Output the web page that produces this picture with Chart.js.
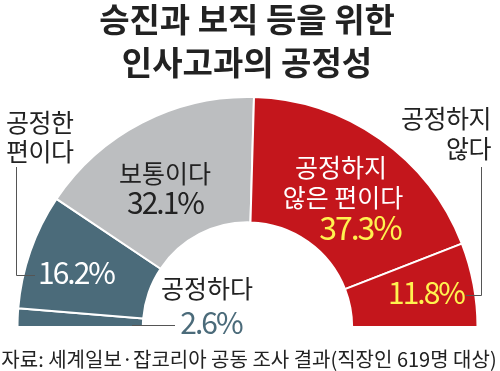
<!DOCTYPE html>
<html><head><meta charset="utf-8">
<script src="https://cdn.jsdelivr.net/npm/chart.js@4/dist/chart.umd.min.js"></script>
<style>html,body{margin:0;padding:0;background:#fff;}#wrap{width:500px;height:371px;position:relative;}</style>
</head><body><div id="wrap"><canvas id="c" width="500" height="371"></canvas></div>
<script>
const categories = ['공정하다', '공정한 편이다', '보통이다', '공정하지 않은 편이다', '공정하지 않다'];
const values = [2.6, 16.2, 32.1, 37.3, 11.8];
const valueLabels = ['2.6%', '16.2%', '32.1%', '37.3%', '11.8%'];
const colors = ['#4b6b7a', '#4b6b7a', '#bcbec0', '#c4161c', '#c4161c'];
const titleLines = ['승진과 보직 등을 위한', '인사고과의 공정성'];
const sourceText = '자료: 세계일보·잡코리아 공동 조사 결과(직장인 619명 대상)';

const F = '"Noto Sans CJK KR", "Noto Sans", sans-serif';

const labelPlugin = {
  id: 'labels',
  afterDraw(chart) {
    const ctx = chart.ctx;
    ctx.save();
    ctx.textBaseline = 'middle';
    function t(str, x, y, size, color, align, weight, ls) {
      ctx.font = (weight || 400) + ' ' + size + 'px ' + F;
      ctx.fillStyle = color;
      ctx.textAlign = align || 'center';
      ctx.letterSpacing = (ls || 0) + 'px';
      ctx.fillText(str, x, y);
    }
    // title
    t(titleLines[0], 247, 19, 33, '#222', 'center', 700, 0);
    t(titleLines[1], 247, 62, 33, '#222', 'center', 700, 0);
    // leader lines
    ctx.strokeStyle = '#555';
    ctx.lineWidth = 1;
    ctx.beginPath();
    ctx.moveTo(16.5, 167); ctx.lineTo(16.5, 275.5); ctx.lineTo(35, 275.5);
    ctx.moveTo(132, 325.5); ctx.lineTo(175, 325.5);
    ctx.moveTo(481.5, 167); ctx.lineTo(481.5, 295.5); ctx.lineTo(466, 295.5);
    ctx.stroke();
    // outside labels
    t('공정한', 6, 122, 25, '#222', 'left', 400, -0.5);
    t('편이다', 6, 151, 25, '#222', 'left', 400, -0.5);
    t('공정하지', 491, 118, 25, '#222', 'right', 400, -0.5);
    t('않다', 491, 148, 25, '#222', 'right', 400, -0.5);
    // inner labels
    t(valueLabels[1], 76, 273, 30, '#fff', 'center', 400, -2);
    t(categories[2], 165, 173, 25, '#222', 'center', 400, 0);
    t(valueLabels[2], 165, 203, 30, '#222', 'center', 400, -2);
    t(categories[0], 207, 288, 25, '#222', 'center', 400, 0);
    t(valueLabels[0], 211, 323, 30, '#4b6b7a', 'center', 400, -2);
    t('공정하지', 341, 167, 25, '#fff', 'center', 400, 0);
    t('않은 편이다', 343, 197, 25, '#fff', 'center', 400, 0);
    t(valueLabels[3], 360, 228, 32, '#fff24f', 'center', 400, -2);
    t(valueLabels[4], 426, 293, 30, '#fff24f', 'center', 400, -2);
    // source
    t(sourceText, 249, 359, 20, '#222', 'center', 400, 0);
    ctx.restore();
  }
};

new Chart(document.getElementById('c'), {
  type: 'doughnut',
  data: {
    labels: categories,
    datasets: [{
      data: values,
      backgroundColor: colors,
      borderColor: '#fff',
      borderWidth: 2,
      hoverOffset: 0
    }]
  },
  options: {
    responsive: false,
    animation: false,
    rotation: -90,
    circumference: 180,
    cutout: '45.5%',
    layout: { padding: { left: 16, right: 21, top: 96, bottom: 43 } },
    plugins: { legend: { display: false }, tooltip: { enabled: false } }
  },
  plugins: [labelPlugin]
});
</script></body></html>
